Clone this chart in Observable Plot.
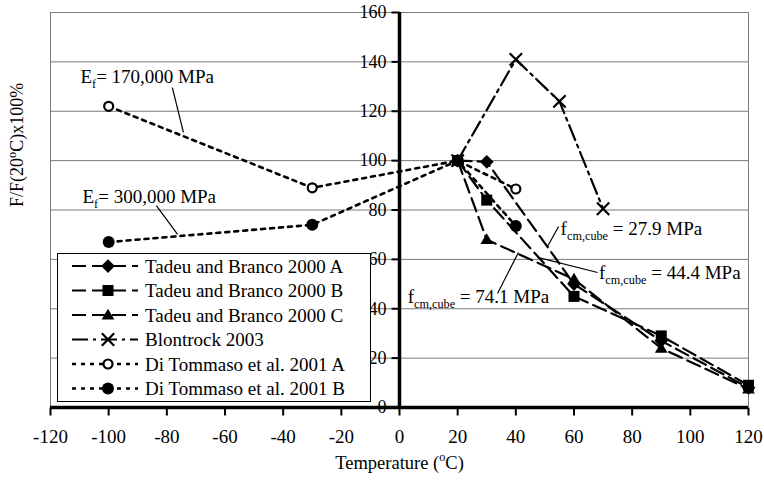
<!DOCTYPE html>
<html><head><meta charset="utf-8">
<script src="https://cdn.jsdelivr.net/npm/d3@7"></script>
<script src="https://cdn.jsdelivr.net/npm/@observablehq/plot@0.6"></script>
<style>
body{margin:0;background:#fff}
#chart{position:relative;width:764px;height:489px}
#chart svg, #chart svg text{font-family:"Liberation Serif","Times New Roman",serif !important}
</style>
</head><body><div id="chart"></div>
<script>
// ---- data ----
const seriesNames = ["Tadeu and Branco 2000 A","Tadeu and Branco 2000 B","Tadeu and Branco 2000 C","Blontrock 2003","Di Tommaso et al. 2001 A","Di Tommaso et al. 2001 B"];
const tadeuT = [20, 30, 60, 90, 120];
const tadeuA = [100, 99.5, 50, 27, 8];
const tadeuB = [100, 84, 45, 29, 9];
const tadeuC = [100, 68, 52, 24, 7.5];
const blontrockT = [20, 40, 55, 70];
const blontrock = [100, 141, 124, 80.5];
const tommasoT = [-100, -30, 20, 40];
const tommasoA = [122, 89, 100, 88.5];
const tommasoB = [67, 74, 100, 73.5];
const xTicks = [-120,-100,-80,-60,-40,-20,0,20,40,60,80,100,120];
const yTicks = [0,20,40,60,80,100,120,140,160];
const xLabel = "Temperature (^{o}C)";
const yLabel = "F/F(20^{o}C)x100%";
// annotations (text, anchor point, leader line) in data units
const annText = ["E_{f}= 170,000 MPa","E_{f}= 300,000 MPa","f_{cm,cube} = 27.9 MPa","f_{cm,cube} = 44.4 MPa","f_{cm,cube} = 74.1 MPa"];
const annX = [-109.7, -109, 55.4, 68.6, 2.8];
const annY = [134, 85.5, 72.5, 54.7, 45];
const leadX1 = [-78.1, -83.6, 54.7, 68.1, 33.7];
const leadY1 = [129.6, 81.8, 73.3, 54.7, 46.2];
const leadX2 = [-74.3, -76.3, 50.9, 47.5, 40.9];
const leadY2 = [111.4, 70.1, 65.2, 60.8, 62.8];

// ---- styles ----
const sym = {
  diamond:{draw(c,s){const r=Math.sqrt(s/Math.PI)*1.25;c.moveTo(0,-r);c.lineTo(r,0);c.lineTo(0,r);c.lineTo(-r,0);c.closePath();}},
  square:{draw(c,s){const r=Math.sqrt(s/Math.PI)*0.95;c.rect(-r,-r,2*r,2*r);}},
  triangle:{draw(c,s){const r=Math.sqrt(s/Math.PI)*1.15;c.moveTo(0,-r);c.lineTo(r,r*0.7);c.lineTo(-r,r*0.7);c.closePath();}},
  cross:{draw(c,s){const r=Math.sqrt(s/Math.PI)*0.95;c.moveTo(-r,-r);c.lineTo(r,r);c.moveTo(r,-r);c.lineTo(-r,r);}},
  circle:d3.symbolCircle
};
const hTick = {draw(c){c.moveTo(-8,0);c.lineTo(0,0);}};
const vTick = {draw(c){c.moveTo(0,0);c.lineTo(0,8);}};
const dashT = "14,6", dashB = "16,5,3,5", dashD = "4,5";
const style = [
  {sym:sym.diamond, dash:dashT, fill:"black", stroke:"none", r:5.5, w:2.2},
  {sym:sym.square, dash:dashT, fill:"black", stroke:"none", r:5.8, w:2.2},
  {sym:sym.triangle, dash:dashT, fill:"black", stroke:"none", r:5.5, w:2.2},
  {sym:sym.cross, dash:dashB, fill:"none", stroke:"black", r:6.5, w:2.2},
  {sym:sym.circle, dash:dashD, fill:"white", stroke:"black", r:4.5, w:2.6},
  {sym:sym.circle, dash:dashD, fill:"black", stroke:"none", r:6, w:2.6}
];

const seriesT = [tadeuT, tadeuT, tadeuT, blontrockT, tommasoT, tommasoT];
const seriesV = [tadeuA, tadeuB, tadeuC, blontrock, tommasoA, tommasoB];
const tables = seriesV.map((vals,i)=>vals.map((v,j)=>({series:seriesNames[i], t:seriesT[i][j], v})));
const ann = annText.map((text,i)=>({text,x:annX[i],y:annY[i],x1:leadX1[i],y1:leadY1[i],x2:leadX2[i],y2:leadY2[i]}));

const order = [4,5,0,1,2,3];
const FONT = "'Liberation Serif', 'Times New Roman', serif";

const plot = Plot.plot({
  width:764, height:489,
  marginLeft:50, marginRight:16, marginTop:12, marginBottom:82,
  x:{domain:[-120,120], axis:null},
  y:{domain:[0,160], axis:null},
  style:{fontFamily:FONT, fontSize:"18px", background:"white", color:"black"},
  marks:[
    Plot.ruleY(yTicks.filter(d=>d>0), {y:d=>d, stroke:"#7a7a7a", strokeWidth:1}),
    Plot.ruleX([-120,120], {x:d=>d, stroke:"#7a7a7a", strokeWidth:1}),
    ...order.map(i=>Plot.line(tables[i], {x:"t", y:"v", stroke:"black", strokeWidth:style[i].w, strokeDasharray:style[i].dash})),
    ...order.map(i=>Plot.dot(tables[i], {x:"t", y:"v", symbol:style[i].sym, r:style[i].r, fill:style[i].fill, stroke:style[i].stroke, strokeWidth:2.2})),
    Plot.link(ann, {x1:"x1", y1:"y1", x2:"x2", y2:"y2", stroke:"black", strokeWidth:1.2}),
    Plot.text(ann, {x:"x", y:"y", text:"text", textAnchor:"start", fontSize:19, fill:"black"}),
    Plot.ruleY([0], {y:d=>d, stroke:"black", strokeWidth:3.5}),
    Plot.ruleX([0], {x:d=>d, stroke:"black", strokeWidth:3.5}),
    Plot.dot(yTicks, {x:()=>0, y:d=>d, symbol:hTick, r:1, stroke:"black", strokeWidth:2, fill:"none"}),
    Plot.dot(xTicks, {x:d=>d, y:()=>0, symbol:vTick, r:1, stroke:"black", strokeWidth:2, fill:"none"}),
    Plot.text(yTicks, {x:()=>0, y:d=>d, text:d=>String(d), textAnchor:"end", dx:-13, fontSize:18, fill:"black"}),
    Plot.text(xTicks, {x:d=>d, y:()=>0, text:d=>String(d), dy:29, fontSize:19, fill:"black"}),
    Plot.text([xLabel], {frameAnchor:"bottom", text:d=>d, dy:61, fontSize:18.5, fill:"black"}),
    Plot.text([yLabel], {frameAnchor:"left", text:d=>d, dx:-33, dy:-3, rotate:-90, fontSize:18, fill:"black"})
  ]
});

// legend
const svg = d3.select(plot);
svg.attr("font-family", FONT);
const lg = svg.append("g").attr("font-family", FONT).attr("font-size", 19).attr("text-anchor","start");
lg.append("rect").attr("x",57.5).attr("y",253.5).attr("width",313).attr("height",148).attr("fill","white").attr("stroke","black").attr("stroke-width",1);
seriesNames.forEach((name,i)=>{
  const cy = 266 + i*24.5;
  const st = style[i];
  lg.append("line").attr("x1",72).attr("x2",138).attr("y1",cy).attr("y2",cy)
    .attr("stroke","black").attr("stroke-width",st.w).attr("stroke-dasharray",st.dash);
  lg.append("path").attr("transform",`translate(108,${cy})`)
    .attr("d", d3.symbol().type(st.sym).size(Math.PI*st.r*st.r)())
    .attr("fill",st.fill).attr("stroke",st.stroke).attr("stroke-width",2.2);
  lg.append("text").attr("x",145).attr("y",cy).attr("dy","0.35em").attr("text-anchor","start").attr("fill","black").text(name);
});

// rich text: _{sub} and ^{sup}
function rich(el){
  const s = el.textContent;
  if(!/[_^]\{/.test(s)) return;
  const fs = parseFloat(el.getAttribute("font-size")) || 18;
  while(el.firstChild) el.removeChild(el.firstChild);
  const re = /([_^])\{([^}]*)\}/g;
  let last = 0, m, shift = 0;
  const add = (txt, size, dy) => {
    const t = document.createElementNS("http://www.w3.org/2000/svg","tspan");
    if(size) t.setAttribute("font-size", size);
    if(dy) t.setAttribute("dy", dy);
    t.textContent = txt; el.appendChild(t);
  };
  while((m = re.exec(s))){
    if(m.index>last){ add(s.slice(last,m.index), null, -shift || null); shift = 0; }
    const d = m[1]==="_" ? 0.3*fs : -0.42*fs;
    add(m[2], 0.68*fs, d - shift); shift = d;
    last = re.lastIndex;
  }
  if(last < s.length){ add(s.slice(last), null, -shift || null); }
}
svg.selectAll("text").each(function(){ rich(this); });

document.getElementById("chart").appendChild(plot);
</script>
</body></html>
